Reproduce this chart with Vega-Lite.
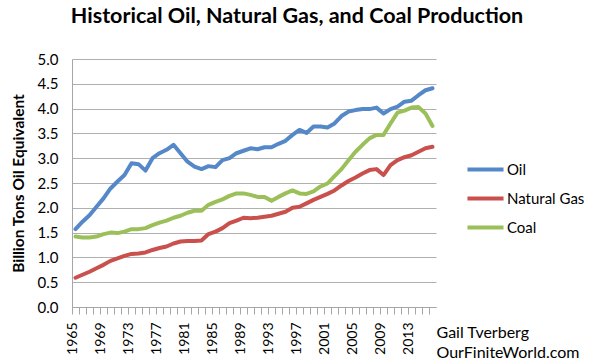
{
  "$schema": "https://vega.github.io/schema/vega-lite/v6.json",
  "autosize": "none",
  "width": 364,
  "height": 248,
  "padding": {"left": 72, "top": 59, "right": 164, "bottom": 55},
  "background": "white",
  "title": {
    "text": "Historical Oil, Natural Gas, and Coal Production",
    "anchor": "middle",
    "dx": 43,
    "offset": 25,
    "font": "Lato",
    "fontSize": 21.5,
    "fontWeight": "bold",
    "color": "black"
  },
  "config": {
    "view": {"stroke": null},
    "font": "Lato"
  },
  "datasets": {
    "prod": [
      {"year":1965,"Oil":1.57,"Natural Gas":0.59,"Coal":1.42},
      {"year":1966,"Oil":1.72,"Natural Gas":0.65,"Coal":1.40},
      {"year":1967,"Oil":1.85,"Natural Gas":0.71,"Coal":1.40},
      {"year":1968,"Oil":2.02,"Natural Gas":0.78,"Coal":1.42},
      {"year":1969,"Oil":2.19,"Natural Gas":0.85,"Coal":1.47},
      {"year":1970,"Oil":2.39,"Natural Gas":0.93,"Coal":1.50},
      {"year":1971,"Oil":2.53,"Natural Gas":0.98,"Coal":1.49},
      {"year":1972,"Oil":2.66,"Natural Gas":1.03,"Coal":1.52},
      {"year":1973,"Oil":2.90,"Natural Gas":1.07,"Coal":1.57},
      {"year":1974,"Oil":2.88,"Natural Gas":1.08,"Coal":1.57},
      {"year":1975,"Oil":2.75,"Natural Gas":1.10,"Coal":1.59},
      {"year":1976,"Oil":3.00,"Natural Gas":1.15,"Coal":1.65},
      {"year":1977,"Oil":3.10,"Natural Gas":1.19,"Coal":1.70},
      {"year":1978,"Oil":3.17,"Natural Gas":1.22,"Coal":1.74},
      {"year":1979,"Oil":3.27,"Natural Gas":1.28,"Coal":1.80},
      {"year":1980,"Oil":3.10,"Natural Gas":1.32,"Coal":1.84},
      {"year":1981,"Oil":2.93,"Natural Gas":1.33,"Coal":1.90},
      {"year":1982,"Oil":2.83,"Natural Gas":1.33,"Coal":1.94},
      {"year":1983,"Oil":2.78,"Natural Gas":1.34,"Coal":1.94},
      {"year":1984,"Oil":2.84,"Natural Gas":1.47,"Coal":2.06},
      {"year":1985,"Oil":2.82,"Natural Gas":1.52,"Coal":2.12},
      {"year":1986,"Oil":2.96,"Natural Gas":1.59,"Coal":2.17},
      {"year":1987,"Oil":3.00,"Natural Gas":1.69,"Coal":2.24},
      {"year":1988,"Oil":3.10,"Natural Gas":1.74,"Coal":2.29},
      {"year":1989,"Oil":3.15,"Natural Gas":1.80,"Coal":2.29},
      {"year":1990,"Oil":3.20,"Natural Gas":1.79,"Coal":2.26},
      {"year":1991,"Oil":3.18,"Natural Gas":1.80,"Coal":2.22},
      {"year":1992,"Oil":3.22,"Natural Gas":1.82,"Coal":2.22},
      {"year":1993,"Oil":3.22,"Natural Gas":1.84,"Coal":2.14},
      {"year":1994,"Oil":3.29,"Natural Gas":1.88,"Coal":2.22},
      {"year":1995,"Oil":3.35,"Natural Gas":1.92,"Coal":2.29},
      {"year":1996,"Oil":3.47,"Natural Gas":2.00,"Coal":2.35},
      {"year":1997,"Oil":3.57,"Natural Gas":2.02,"Coal":2.29},
      {"year":1998,"Oil":3.51,"Natural Gas":2.09,"Coal":2.28},
      {"year":1999,"Oil":3.64,"Natural Gas":2.16,"Coal":2.33},
      {"year":2000,"Oil":3.64,"Natural Gas":2.22,"Coal":2.43},
      {"year":2001,"Oil":3.62,"Natural Gas":2.28,"Coal":2.49},
      {"year":2002,"Oil":3.70,"Natural Gas":2.35,"Coal":2.64},
      {"year":2003,"Oil":3.85,"Natural Gas":2.45,"Coal":2.78},
      {"year":2004,"Oil":3.94,"Natural Gas":2.54,"Coal":2.96},
      {"year":2005,"Oil":3.97,"Natural Gas":2.61,"Coal":3.13},
      {"year":2006,"Oil":3.99,"Natural Gas":2.69,"Coal":3.27},
      {"year":2007,"Oil":3.99,"Natural Gas":2.76,"Coal":3.40},
      {"year":2008,"Oil":4.02,"Natural Gas":2.78,"Coal":3.47},
      {"year":2009,"Oil":3.90,"Natural Gas":2.66,"Coal":3.47},
      {"year":2010,"Oil":3.99,"Natural Gas":2.86,"Coal":3.70},
      {"year":2011,"Oil":4.04,"Natural Gas":2.96,"Coal":3.92},
      {"year":2012,"Oil":4.14,"Natural Gas":3.02,"Coal":3.96},
      {"year":2013,"Oil":4.16,"Natural Gas":3.06,"Coal":4.02},
      {"year":2014,"Oil":4.27,"Natural Gas":3.13,"Coal":4.03},
      {"year":2015,"Oil":4.37,"Natural Gas":3.20,"Coal":3.90},
      {"year":2016,"Oil":4.41,"Natural Gas":3.23,"Coal":3.65}
    ]
  },
  "data": {"name": "prod"},
  "transform": [
    {"fold": ["Oil", "Natural Gas", "Coal"], "as": ["fuel", "value"]}
  ],
  "mark": {"type": "line", "strokeWidth": 4, "strokeJoin": "round", "strokeCap": "round", "clip": false},
  "encoding": {
    "x": {
      "field": "year",
      "type": "quantitative",
      "scale": {"domain": [1964.5, 2016.5], "nice": false, "zero": false},
      "axis": {
        "values": [1965,1966,1967,1968,1969,1970,1971,1972,1973,1974,1975,1976,1977,1978,1979,1980,1981,1982,1983,1984,1985,1986,1987,1988,1989,1990,1991,1992,1993,1994,1995,1996,1997,1998,1999,2000,2001,2002,2003,2004,2005,2006,2007,2008,2009,2010,2011,2012,2013,2014,2015,2016],
        "labelExpr": "(datum.value - 1965) % 4 == 0 ? toString(datum.value) : ''",
        "labelOverlap": false,
        "labelAngle": -90,
        "labelAlign": "right",
        "labelBaseline": "middle",
        "labelFont": "Lato",
        "labelFontSize": 14,
        "labelColor": "black",
        "labelPadding": 8,
        "tickOffset": -3.5,
        "tickSize": 7,
        "tickColor": "#a6a6a6",
        "domainColor": "#a6a6a6",
        "grid": false,
        "title": ["Gail Tverberg", "OurFiniteWorld.com"],
        "titleX": 364,
        "titleY": 30,
        "titleAlign": "left",
        "titleAnchor": "start",
        "titleBaseline": "alphabetic",
        "titleFont": "Lato",
        "titleFontSize": 16,
        "titleFontWeight": "normal",
        "titleLineHeight": 20,
        "titleColor": "black"
      }
    },
    "y": {
      "field": "value",
      "type": "quantitative",
      "scale": {"domain": [0, 5], "nice": false},
      "axis": {
        "values": [0, 0.5, 1, 1.5, 2, 2.5, 3, 3.5, 4, 4.5, 5],
        "format": ".1f",
        "labelFont": "Lato",
        "labelFontSize": 15,
        "labelColor": "black",
        "labelPadding": 14,
        "ticks": false,
        "domainColor": "#a6a6a6",
        "gridColor": "#b0b0b0",
        "gridWidth": 1,
        "title": "Billion Tons Oil Equivalent",
        "titleFont": "Lato",
        "titleFontSize": 15.5,
        "titleFontWeight": "bold",
        "titleColor": "black",
        "titlePadding": 11
      }
    },
    "color": {
      "field": "fuel",
      "type": "nominal",
      "sort": ["Oil", "Natural Gas", "Coal"],
      "scale": {"domain": ["Oil", "Natural Gas", "Coal"], "range": ["#5588c8", "#c9504d", "#9bc05a"]},
      "legend": {
        "title": null,
        "orient": "none",
        "legendX": 393,
        "legendY": 90,
        "symbolType": "stroke",
        "symbolSize": 1300,
        "symbolStrokeWidth": 4,
        "symbolOffset": 0,
        "labelFont": "Lato",
        "labelFontSize": 15,
        "labelColor": "black",
        "labelOffset": 1,
        "rowPadding": -1,
        "padding": 0
      }
    }
  }
}
